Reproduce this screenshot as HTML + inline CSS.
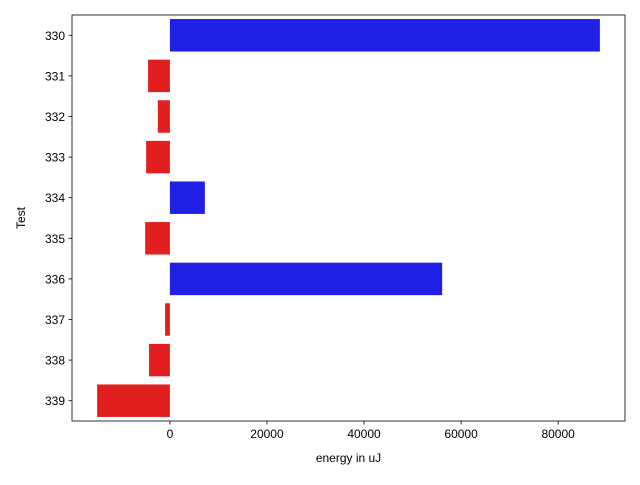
<!DOCTYPE html>
<html><head><meta charset="utf-8"><style>body{margin:0;background:#fff}svg{font-family:"Liberation Sans","DejaVu Sans",sans-serif}</style></head>
<body>
<svg id="chart" width="640" height="480"></svg>
<script>
const categories=["330","331","332","333","334","335","336","337","338","339"];
const values=[88600,-4500,-2500,-4900,7200,-5100,56100,-1000,-4300,-15000];
const xTicks=[0,20000,40000,60000,80000];
const L=72,R=625,T=15,B=421;
const xmin=-20180,xmax=93780;
const xs=v=>L+(v-xmin)/(xmax-xmin)*(R-L);
const step=(B-T)/categories.length;
const ys=i=>T+step*(i+0.5);
const svg=document.getElementById('chart');
const NS="http://www.w3.org/2000/svg";
function mk(t,a){const e=document.createElementNS(NS,t);for(const k in a)e.setAttribute(k,a[k]);svg.appendChild(e);return e;}
categories.forEach((c,i)=>{
  const v=values[i];
  const r=mk('rect',{x:Math.min(xs(0),xs(v)),y:ys(i)-step*0.4,width:Math.abs(xs(v)-xs(0)),height:step*0.8,fill:v>=0?'#1f1fe5':'#e11f1f'});
  
  
  mk('line',{x1:L,x2:L-3.5,y1:ys(i),y2:ys(i),stroke:'#000','stroke-width':0.8});
  const t=mk('text',{x:L-7,y:ys(i)+4.5,'text-anchor':'end','font-size':12});
  t.textContent=c;
  
  
});
xTicks.forEach(v=>{
  mk('line',{x1:xs(v),x2:xs(v),y1:B,y2:B+3.5,stroke:'#000','stroke-width':0.8});
  const t=mk('text',{x:xs(v),y:B+17,'text-anchor':'middle','font-size':12});
  t.textContent=v;
  
  
});
const f=mk('rect',{x:L,y:T,width:R-L,height:B-T,fill:'none',stroke:'#000','stroke-width':0.8});


const xl=mk('text',{x:(L+R)/2,y:462,'text-anchor':'middle','font-size':12});
xl.textContent='energy in uJ';


const yl=mk('text',{x:25,y:(T+B)/2,'text-anchor':'middle','font-size':12,transform:`rotate(-90 25 ${(T+B)/2})`});
yl.textContent='Test';


</script>
</body></html>
